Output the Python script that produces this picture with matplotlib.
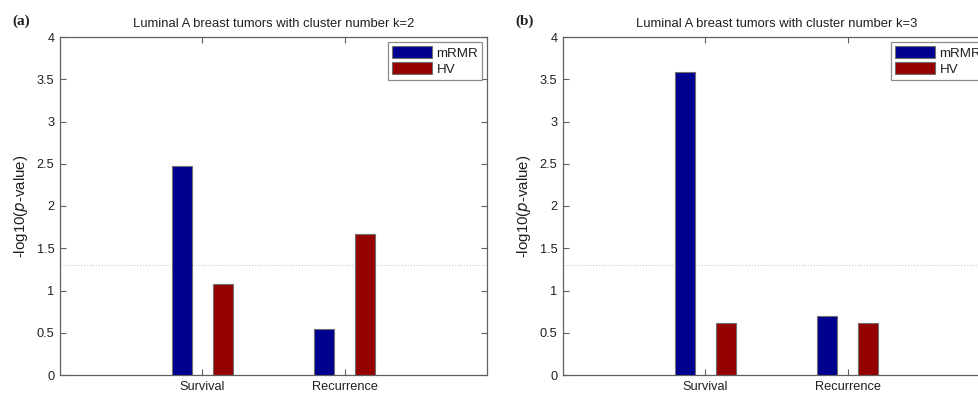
import numpy as np
import matplotlib.pyplot as plt

plt.rcParams['font.family'] = ['Liberation Sans', 'DejaVu Sans']

groups = ['Survival', 'Recurrence']
methods = ['mRMR', 'HV']
k2_mrmr = [2.47, 0.54]
k2_hv = [1.08, 1.67]
k3_mrmr = [3.59, 0.70]
k3_hv = [0.61, 0.61]
cutoff = -np.log10(0.05)

colors = ['#00008f', '#950000']
axis_color = '#606060'

panels = [
    ('(a)', 'Luminal A breast tumors with cluster number k=2', k2_mrmr, k2_hv),
    ('(b)', 'Luminal A breast tumors with cluster number k=3', k3_mrmr, k3_hv),
]

fig = plt.figure(figsize=(9.79, 3.93), dpi=100)
w = 427 / 979
h = 338 / 393
b = 1 - 375 / 393
lefts = [60 / 979, 563 / 979]

x = np.arange(1, len(groups) + 1)
bw = 0.14
off = 0.145

for left, (tag, title, mrmr, hv) in zip(lefts, panels):
    ax = fig.add_axes([left, b, w, h])
    ax.bar(x - off, mrmr, bw, color=colors[0], edgecolor='#707070', linewidth=0.8,
           label=methods[0], zorder=3)
    ax.bar(x + off, hv, bw, color=colors[1], edgecolor='#707070', linewidth=0.8,
           label=methods[1], zorder=3)
    ax.axhline(cutoff, color='#c8c8c8', linestyle=':', linewidth=0.8, zorder=2)

    ax.set_xlim(0, 3)
    ax.set_ylim(0, 4)
    ax.set_xticks(x)
    ax.set_xticklabels(groups)
    ax.set_yticks(np.arange(0, 4.01, 0.5))
    ax.set_yticklabels(['0', '0.5', '1', '1.5', '2', '2.5', '3', '3.5', '4'])
    ax.tick_params(direction='in', top=True, right=True, length=4, width=0.8,
                   color=axis_color, labelsize=9.2, labelcolor='#202020', pad=4)
    for s in ax.spines.values():
        s.set_color(axis_color)
        s.set_linewidth(0.9)

    ax.set_ylabel(r'-log10($\it{p}$-value)', fontsize=10.8, color='#202020', labelpad=5)
    ax.set_title(title, fontsize=9.4, color='#202020', pad=7)

    leg = ax.legend(loc='upper right', fontsize=9.6, frameon=True, fancybox=False,
                    handlelength=3.0, handleheight=1.1, handletextpad=0.35,
                    borderpad=0.3, borderaxespad=0.35, labelspacing=0.15)
    leg.get_frame().set_edgecolor('#707070')
    leg.get_frame().set_linewidth(0.9)
    for t in leg.get_texts():
        t.set_color('#202020')

    fig.text(left - 48 / 979, 1 - 25 / 393, tag, fontsize=11, fontweight='bold',
             family='Liberation Serif', va='baseline', color='#202020')

fig.savefig('out.png', dpi=100)
